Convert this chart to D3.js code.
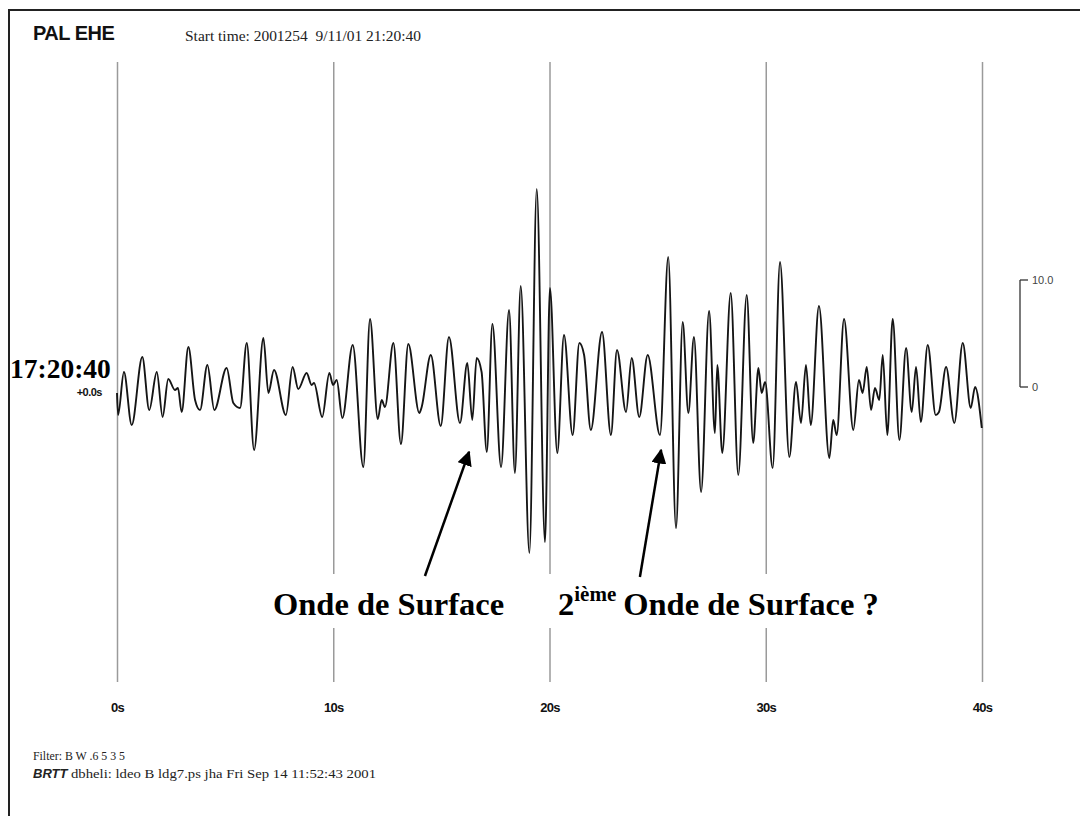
<!DOCTYPE html>
<html><head><meta charset="utf-8">
<script src="https://cdn.jsdelivr.net/npm/d3@7"></script>
<style>html,body{margin:0;padding:0;background:#fff;}svg{display:block;}</style>
</head><body>
<script>
// Time (s) of each extremum of the trace
const times = [0.0,0.05,0.32,0.68,1.17,1.49,1.84,2.11,2.37,2.68,2.82,2.99,3.30,3.61,3.84,4.18,4.50,5.07,5.38,5.69,
6.00,6.34,6.77,7.00,7.26,7.81,8.12,8.38,8.77,9.00,9.11,9.49,9.82,9.99,10.16,10.42,10.90,11.39,11.70,12.06,
12.24,12.39,12.78,13.13,13.47,13.98,14.09,14.51,14.97,15.35,15.86,16.20,16.43,16.63,16.86,17.10,17.36,17.76,18.13,18.40,
18.67,19.07,19.41,19.79,20.02,20.36,20.67,21.07,21.38,21.60,21.91,22.43,22.84,23.12,23.54,23.80,24.15,24.54,25.11,25.49,
25.85,26.16,26.42,26.68,27.01,27.38,27.65,27.76,27.99,28.38,28.73,29.12,29.42,29.66,29.81,29.97,30.32,30.66,31.09,31.40,
31.63,31.86,32.08,32.46,32.94,33.12,33.28,33.62,34.05,34.31,34.48,34.67,34.87,35.05,35.25,35.41,35.62,35.87,36.18,36.49,
36.75,36.95,37.17,37.49,37.86,38.01,38.34,38.72,39.11,39.48,39.68,39.99];
// Amplitude at each of those times (scale bar: 0 to 10.0)
const amplitude = [-0.56,-2.62,1.40,-3.55,2.80,-2.15,1.40,-2.80,0.75,-0.28,-0.09,-2.34,3.74,-1.21,-2.15,2.06,-2.15,1.78,-1.50,-1.96,
4.11,-5.89,4.58,-0.56,1.59,-2.62,1.87,-0.19,1.31,0.19,0.37,-2.80,1.31,0.19,0.65,-2.90,3.93,-7.48,6.36,-2.99,
-1.21,-1.87,4.11,-5.33,4.02,-2.43,-1.87,2.99,-3.64,4.67,-3.36,2.24,-3.08,2.71,1.40,-6.07,5.89,-7.48,7.20,-8.04,
9.44,-15.51,18.50,-14.49,9.25,-6.17,4.86,-4.49,4.11,2.99,-4.02,5.14,-4.49,3.46,-2.34,2.71,-2.80,2.99,-4.49,12.15,
-13.18,6.07,-2.43,4.67,-9.81,7.10,-4.30,2.06,-6.17,8.79,-8.22,8.60,-5.23,1.78,-0.56,0.47,-7.57,11.68,-6.54,0.47,
-3.36,2.06,-3.55,7.57,-6.64,-3.08,-4.49,6.36,-4.02,0.65,-0.56,1.87,-2.15,-0.09,-1.21,2.99,-4.49,6.36,-4.95,3.64,
-2.34,1.87,-3.27,3.93,-2.62,-2.34,1.87,-3.36,4.11,-1.96,0.00,-3.83];
const tickValues = [0,10,20,30,40];
const tickLabels = ["0s","10s","20s","30s","40s"];
const scaleBarValues = [0,10];
const scaleBarLabels = ["0","10.0"];
// Annotation arrows: [tail time, tail amplitude] -> [head time, head amplitude]
const arrowTail = [[14.24,-17.66],[24.18,-17.76]];
const arrowHead = [[16.28,-6.07],[25.16,-5.89]];

const W = 1080, H = 816;
const svg = d3.select("body").append("svg").attr("width", W).attr("height", H);
const x = d3.scaleLinear().domain([0,40]).range([117,982]);
const y = d3.scaleLinear().domain([0,10]).range([387,280]);
const sans = "Liberation Sans, Arial, sans-serif";
const serif = "Liberation Serif, Times New Roman, serif";

// Frame
svg.append("path").attr("d", `M9,${H+5} L9,10 L${W+5},10`).attr("fill","none").attr("stroke","#222").attr("stroke-width",2);

// Vertical grid lines via axis
const grid = svg.append("g").attr("transform","translate(0,62)")
  .call(d3.axisBottom(x).tickValues(tickValues).tickSize(620).tickFormat(""));
grid.select(".domain").remove();
grid.selectAll("line").attr("stroke","#9a9a9a").attr("stroke-width",1.5);

// Tick labels
const lab = svg.append("g").attr("transform","translate(0,708)")
  .call(d3.axisBottom(x).tickValues(tickValues).tickSize(0).tickFormat((d,i)=>tickLabels[i]));
lab.select(".domain").remove();
lab.selectAll("text").attr("dy",0).attr("y",4).attr("font-family",sans)
  .attr("font-weight","bold").attr("font-size",13).attr("letter-spacing","-0.7").attr("fill","#111");

// Trace
const pts = times.map((t,i)=>[t, amplitude[i]]);
svg.append("path").datum(pts)
  .attr("d", d3.line().x(d=>x(d[0])).y(d=>y(d[1])).curve(d3.curveMonotoneX))
  .attr("fill","none").attr("stroke","#151515").attr("stroke-width",1.9).attr("stroke-linejoin","round");

// Scale bar
const sbX = 1020;
const sb = svg.append("g");
sb.append("line").attr("x1",sbX).attr("x2",sbX).attr("y1",y(0)).attr("y2",y(10)).attr("stroke","#333").attr("stroke-width",1.3);
sb.selectAll("line.t").data(scaleBarValues).enter().append("line").attr("class","t")
  .attr("x1",sbX).attr("x2",sbX+8).attr("y1",d=>y(d)).attr("y2",d=>y(d)).attr("stroke","#333").attr("stroke-width",1.3);
sb.selectAll("text").data(scaleBarValues).enter().append("text")
  .attr("x",sbX+12).attr("y",d=>y(d)+4).text((d,i)=>scaleBarLabels[i])
  .attr("font-family",sans).attr("font-size",11).attr("fill","#444");

// Header texts
svg.append("text").attr("x",33).attr("y",40).text("PAL EHE")
  .attr("font-family",sans).attr("font-weight","bold").attr("font-size",20).attr("letter-spacing","-0.5").attr("fill","#111");
svg.append("text").attr("x",185).attr("y",41).attr("xml:space","preserve").text("Start time: 2001254  9/11/01 21:20:40")
  .attr("textLength",236).attr("lengthAdjust","spacingAndGlyphs")
  .attr("font-family",serif).attr("font-size",15).attr("fill","#222");

// Left labels
svg.append("text").attr("x",10).attr("y",378).text("17:20:40")
  .attr("font-family",serif).attr("font-weight","bold").attr("font-size",27.5).attr("fill","#000");
svg.append("text").attr("x",102).attr("y",396).attr("text-anchor","end").text("+0.0s")
  .attr("font-family",sans).attr("font-weight","bold").attr("font-size",11).attr("letter-spacing","-0.5").attr("fill","#111");

// Footer
svg.append("text").attr("x",33).attr("y",760).attr("xml:space","preserve").text("Filter: B W .6 5 3 5")
  .attr("textLength",92).attr("lengthAdjust","spacingAndGlyphs")
  .attr("font-family",serif).attr("font-size",12.5).attr("fill","#222");
const ft = svg.append("text").attr("x",33).attr("y",778).attr("font-size",12.5).attr("fill","#222");
ft.append("tspan").text("BRTT").attr("font-family",sans).attr("font-weight","bold").attr("font-style","italic").attr("font-size",13);
ft.append("tspan").attr("x",71).text("dbheli: ldeo B ldg7.ps jha Fri Sep 14 11:52:43 2001")
  .attr("textLength",305).attr("lengthAdjust","spacingAndGlyphs").attr("font-family",serif);

// Annotation white box
svg.append("rect").attr("x",258).attr("y",574).attr("width",645).attr("height",54).attr("fill","#fff");

// Arrows
const defs = svg.append("defs");
defs.append("marker").attr("id","ah").attr("viewBox","0 0 10 10").attr("refX",9).attr("refY",5)
  .attr("markerWidth",6).attr("markerHeight",6).attr("markerUnits","strokeWidth").attr("orient","auto")
  .append("path").attr("d","M0,0 L10,5 L0,10 Z").attr("fill","#000");
svg.selectAll("line.arrow").data(arrowTail).enter().append("line").attr("class","arrow")
  .attr("x1",d=>x(d[0])).attr("y1",d=>y(d[1]))
  .attr("x2",(d,i)=>x(arrowHead[i][0])).attr("y2",(d,i)=>y(arrowHead[i][1]))
  .attr("stroke","#000").attr("stroke-width",2.5).attr("marker-end","url(#ah)");

// Annotation texts
svg.append("text").attr("x",273).attr("y",615).text("Onde de Surface")
  .attr("font-family",serif).attr("font-weight","bold").attr("font-size",32.5).attr("fill","#000");
const t2 = svg.append("text").attr("x",558).attr("y",615).attr("font-family",serif).attr("font-weight","bold").attr("font-size",32.5).attr("fill","#000");
t2.append("tspan").text("2");
t2.append("tspan").attr("dy",-14).attr("font-size",21).text("ième");
t2.append("tspan").attr("dx",7).attr("dy",14).text("Onde de Surface ?");
</script>
</body></html>
